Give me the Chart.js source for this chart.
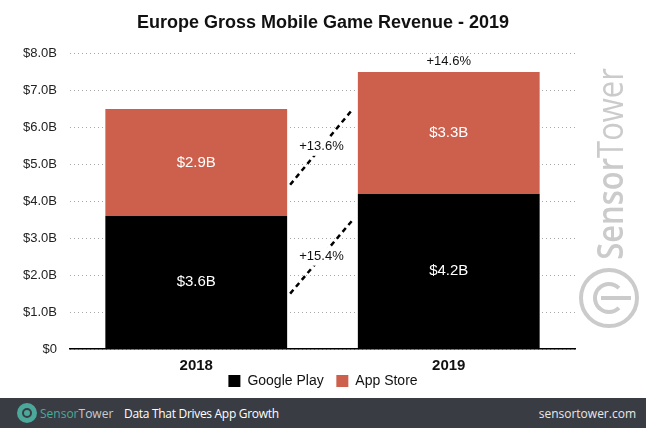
<!DOCTYPE html>
<html>
<head>
<meta charset="utf-8">
<script src="https://cdn.jsdelivr.net/npm/chart.js@4"></script>
<style>
  body { margin: 0; background: #fff; }
  #wrap { position: relative; width: 646px; height: 428px; overflow: hidden; font-family: "Liberation Sans", Arial, sans-serif; }
  #chart { position: absolute; left: 0; top: 0; }
  #mark { position: absolute; left: 609px; top: 164px; transform: translate(-50%, -50%) rotate(-90deg) scaleX(0.86);
    font-family: "Open Sans", sans-serif; font-size: 36px; color: #cbcbcb; white-space: nowrap; }
  #mark b { font-weight: 600; }
  #markLogo { position: absolute; left: 579px; top: 268px; width: 52px; height: 52px; border: 4px solid #cbcbcb; border-radius: 50%; }
  #markLogo i { position: absolute; left: 10px; top: 10px; width: 24px; height: 24px; border: 4px solid #cbcbcb; border-radius: 50%; border-right-color: transparent; }
  #markLogo u { position: absolute; left: 18px; top: 24px; width: 30px; height: 4px; background: #cbcbcb; }
  #footer { position: absolute; left: 0; top: 398px; width: 646px; height: 30px; background: #393c43;
    font-family: "Open Sans", sans-serif; color: #fff; }
  #footer .logo { position: absolute; left: 17px; top: 5px; width: 20px; height: 20px; border-radius: 50%; background: #4aa99b; }
  #footer .logo i { position: absolute; left: 5px; top: 5px; width: 6px; height: 6px; border: 2px solid #393c43; border-radius: 50%; }
  #footer .brand { position: absolute; left: 40px; top: 7px; font-size: 12px; }
  #footer .brand span { color: #4aa99b; }
  #footer .brand em { font-style: normal; color: #c8cbd0; }
  #footer .tag { position: absolute; left: 124px; top: 7px; font-size: 12px; letter-spacing: -0.3px; }
  #footer .site { position: absolute; right: 10px; top: 7px; font-size: 12px; color: #e8e8e8; }
</style>
</head>
<body>
<div id="wrap">
  <canvas id="chart" width="646" height="398"></canvas>
  <div id="mark"><b>Sensor</b>Tower</div>
  <div id="markLogo"><i></i><u></u></div>
  <div id="footer">
    <div class="logo"><i></i></div>
    <div class="brand"><span>Sensor</span><em>Tower</em></div>
    <div class="tag">Data That Drives App Growth</div>
    <div class="site">sensortower.com</div>
  </div>
</div>
<script>
const years = ['2018', '2019'];
const googlePlay = [3.6, 4.2];
const appStore = [2.9, 3.3];
const googleLabels = ['$3.6B', '$4.2B'];
const appLabels = ['$2.9B', '$3.3B'];
const totalGrowth = '+14.6%';
// growth arrows between the bars: label, start value, end value
const growthLabels = ['+15.4%', '+13.6%'];
const growthFrom = [1.5, 4.45];
const growthTo = [3.5, 6.5];

const FONT = '"Liberation Sans", Arial, sans-serif';

const annotate = {
  id: 'annotate',
  afterDatasetsDraw(chart) {
    const ctx = chart.ctx;
    const y = chart.scales.y;
    const gp = chart.getDatasetMeta(0).data;
    const as = chart.getDatasetMeta(1).data;
    ctx.save();
    // labels inside bars
    ctx.fillStyle = '#fff';
    ctx.font = '15px ' + FONT;
    ctx.textAlign = 'center';
    ctx.textBaseline = 'middle';
    gp.forEach((b, i) => ctx.fillText(googleLabels[i], b.x, (b.y + b.base) / 2));
    as.forEach((b, i) => ctx.fillText(appLabels[i], b.x, (b.y + b.base) / 2));
    // total growth above 2019 bar
    ctx.fillStyle = '#111';
    ctx.font = '13px ' + FONT;
    ctx.fillText(totalGrowth, as[1].x, as[1].y - 11);
    // dashed growth lines
    const x0 = gp[0].x + gp[0].width / 2 + 3;
    const x1 = gp[1].x - gp[1].width / 2 - 5;
    growthLabels.forEach((lab, i) => {
      const ya = y.getPixelForValue(growthFrom[i]);
      const yb = y.getPixelForValue(growthTo[i]);
      ctx.strokeStyle = '#000';
      ctx.lineWidth = 2.5;
      ctx.setLineDash([5, 4]);
      ctx.beginPath();
      ctx.moveTo(x0, ya);
      ctx.lineTo(x1, yb);
      ctx.stroke();
      ctx.setLineDash([]);
      const ym = y.getPixelForValue((growthFrom[i] + growthTo[i]) / 2);
      ctx.fillStyle = '#fff';
      ctx.fillRect((x0 + x1) / 2 - 24, ym - 9, 48, 18);
      ctx.fillStyle = '#111';
      ctx.fillText(lab, (x0 + x1) / 2, ym);
    });
    ctx.restore();
  }
};

new Chart(document.getElementById('chart'), {
  type: 'bar',
  data: {
    labels: years,
    datasets: [
      { label: 'Google Play', data: googlePlay, backgroundColor: '#000000' },
      { label: 'App Store', data: appStore, backgroundColor: '#cd604d' }
    ]
  },
  plugins: [annotate],
  options: {
    responsive: false,
    animation: false,
    devicePixelRatio: 1,
    categoryPercentage: 1,
    barPercentage: 0.72,
    layout: { padding: { left: 0, right: 0, top: 0, bottom: 0 } },
    plugins: {
      title: {
        display: true,
        text: 'Europe Gross Mobile Game Revenue - 2019',
        color: '#111',
        font: { family: FONT, size: 18, weight: 'bold' },
        padding: { top: 12, bottom: 20 }
      },
      legend: {
        position: 'bottom',
        labels: {
          color: '#111',
          font: { family: FONT, size: 14 },
          boxWidth: 12,
          boxHeight: 12,
          padding: 1,
          useBorderRadius: false,
          // small vertical padding, so widen the gap between items with spaces
          generateLabels(chart) {
            const items = Chart.defaults.plugins.legend.labels.generateLabels(chart);
            items.forEach((it, i) => { if (i < items.length - 1) it.text += '   '; });
            return items;
          }
        }
      },
      tooltip: { enabled: false }
    },
    scales: {
      x: {
        stacked: true,
        afterFit(s) { s.height = 24; },
        grid: { display: false },
        border: { color: '#000', width: 1.5 },
        ticks: { color: '#111', font: { family: FONT, size: 15, weight: 'bold' }, padding: 0 }
      },
      y: {
        stacked: true,
        min: 0,
        max: 8,
        afterFit(s) { s.width = 70; },
        border: { display: false, dash: [1, 3] },
        grid: { color: '#a8a8a8', lineWidth: 1, drawTicks: false },
        ticks: {
          stepSize: 1,
          padding: 13,
          color: '#222',
          font: { family: FONT, size: 13 },
          callback: v => v === 0 ? '$0' : '$' + v.toFixed(1) + 'B'
        }
      },
      // empty right-hand axis that reserves room for the watermark
      y2: {
        position: 'right',
        min: 0,
        max: 8,
        afterFit(s) { s.width = 71; },
        border: { display: false },
        grid: { display: false },
        ticks: { display: false }
      }
    }
  }
});
</script>
</body>
</html>
